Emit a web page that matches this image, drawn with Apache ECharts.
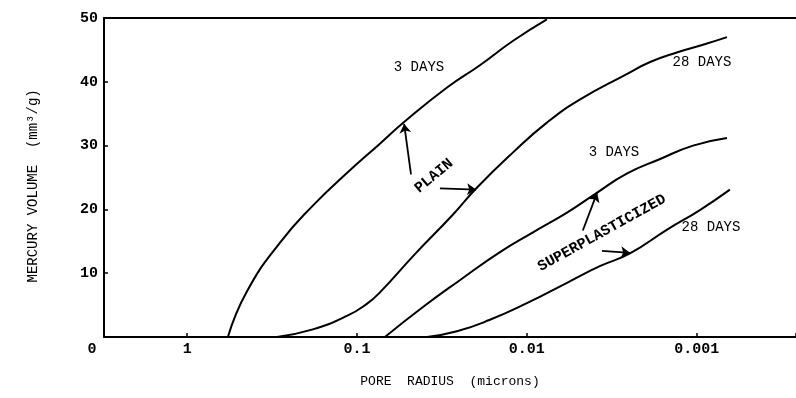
<!DOCTYPE html>
<html><head><meta charset="utf-8">
<script src="https://cdn.jsdelivr.net/npm/echarts@6/dist/echarts.min.js"></script>
<style>html,body{margin:0;padding:0;background:#fff}#c{width:796px;height:398px}</style>
</head><body><div id="c"></div>
<script>
// ---- data (pore radius in microns, mercury volume in mm3/g) ----
const radiusTicks = [1, 0.1, 0.01, 0.001];
const radiusTickLabels = ['1', '0.1', '0.01', '0.001'];
const volumeTicks = [0, 10, 20, 30, 40, 50];

const plain3Radius = [0.576, 0.446, 0.284, 0.182, 0.1147, 0.0733, 0.0522, 0.0295, 0.0189, 0.0121, 0.00762];
const plain3Volume = [0, 7.1, 14.8, 20.6, 25.7, 30.3, 33.8, 39.1, 42.6, 46.4, 49.8];

const plain28Radius = [0.296, 0.182, 0.1147, 0.0875, 0.0733, 0.0456, 0.0272, 0.0197, 0.0121, 0.00762, 0.00488, 0.00258, 0.00188, 0.00131, 0.000918, 0.000663];
const plain28Volume = [0, 1.2, 3.3, 5.2, 7.0, 13.0, 19.2, 23.4, 28.9, 33.6, 37.2, 41.2, 43.1, 44.6, 45.8, 47.0];

const super3Radius = [0.0685, 0.0409, 0.0248, 0.0144, 0.0092, 0.0058, 0.00397, 0.00258, 0.00164, 0.00105, 0.000663];
const super3Volume = [0, 4.7, 8.9, 13.3, 16.4, 19.5, 22.4, 25.6, 27.9, 30.0, 31.2];

const super28Radius = [0.0387, 0.0258, 0.0165, 0.0100, 0.0058, 0.00372, 0.00247, 0.0015, 0.000957, 0.000637];
const super28Volume = [0, 0.9, 2.7, 5.3, 8.5, 11.1, 13.1, 16.8, 19.9, 23.1];

// annotation arrows: [tailRadius, tailVolume, headRadius, headVolume]
const arrows = [
  [0.0481, 25.5, 0.0528, 33.4],
  [0.0325, 23.3, 0.0199, 23.1],
  [0.00468, 16.7, 0.00386, 22.6],
  [0.00361, 13.5, 0.00247, 13.2]
];

const radiusMin = 0.00026, radiusMax = 3.09;

function pairs(xs, ys) { return xs.map((x, i) => [x, ys[i]]); }
const FONT = '"Liberation Mono", "DejaVu Sans Mono", monospace';

const lineSeries = (name, xs, ys) => ({
  name, type: 'line', data: pairs(xs, ys), showSymbol: false, symbol: 'none',
  smooth: 0.5, lineStyle: { color: '#000', width: 2 }, itemStyle: { color: '#000' }, z: 3
});

const chart = echarts.init(document.getElementById('c'), null, { renderer: 'canvas' });
chart.setOption({
  animation: false,
  backgroundColor: '#fff',
  grid: { left: 104, right: 0, top: 18, bottom: 61, containLabel: false, outerBoundsMode: 'none' },
  xAxis: [{
    type: 'log', logBase: 10, inverse: true, min: radiusMin, max: radiusMax,
    axisLine: { show: true, onZero: false, lineStyle: { color: '#000', width: 2 } },
    axisTick: { show: true, inside: true, length: 4, lineStyle: { color: '#000', width: 1.5 } },
    axisLabel: {
      margin: 5, color: '#000', fontFamily: FONT, fontSize: 15, fontWeight: 'bold',
      formatter: v => {
        const e = Math.log10(v);
        const i = radiusTicks.findIndex(t => Math.abs(Math.log10(t) - e) < 1e-6);
        return i >= 0 ? radiusTickLabels[i] : '';
      }
    },
    splitLine: { show: false },
    name: 'PORE  RADIUS  (microns)', nameLocation: 'middle', nameGap: 38,
    nameTextStyle: { color: '#000', fontFamily: FONT, fontSize: 13 }
  }, {
    type: 'value', position: 'top', min: 0, max: 1,
    axisLine: { show: true, onZero: false, lineStyle: { color: '#000', width: 2 } },
    axisTick: { show: false }, axisLabel: { show: false }, splitLine: { show: false }
  }],
  yAxis: {
    type: 'value', min: volumeTicks[0], max: volumeTicks[volumeTicks.length - 1], interval: 10,
    axisLine: { show: true, onZero: false, lineStyle: { color: '#000', width: 2 } },
    axisTick: { show: true, inside: true, length: 4, lineStyle: { color: '#000', width: 1.5 } },
    axisLabel: {
      margin: 6, color: '#000', fontFamily: FONT, fontSize: 15, fontWeight: 'bold',
      formatter: v => (v === 0 ? '' : String(v))
    },
    splitLine: { show: false },
    name: 'MERCURY VOLUME  (mm³/g)  ', nameLocation: 'middle', nameRotate: 90, nameGap: 64,
    nameTextStyle: { color: '#000', fontFamily: FONT, fontSize: 14 }
  },
  series: [
    lineSeries('Plain 3 days', plain3Radius, plain3Volume),
    lineSeries('Plain 28 days', plain28Radius, plain28Volume),
    lineSeries('Superplasticized 3 days', super3Radius, super3Volume),
    lineSeries('Superplasticized 28 days', super28Radius, super28Volume),
    {
      name: 'arrows', type: 'line', data: [], silent: true, itemStyle: { color: '#000' },
      markLine: {
        silent: true, animation: false, symbol: ['none', 'arrow'], symbolSize: 9,
        label: { show: false },
        itemStyle: { color: '#000' },
        lineStyle: { color: '#000', width: 1.8, type: 'solid' },
        emphasis: { disabled: true },
        data: arrows.map(a => [{ coord: [a[0], a[1]] }, { coord: [a[2], a[3]] }])
      }
    }
  ],
  graphic: [
    { type: 'text', x: 92, y: 349, style: { text: '0', font: 'bold 15px ' + FONT, fill: '#000', align: 'center', verticalAlign: 'middle' } },
    { type: 'text', x: 419, y: 67, style: { text: '3 DAYS', font: '14px ' + FONT, fill: '#000', align: 'center', verticalAlign: 'middle' } },
    { type: 'text', x: 702, y: 62, style: { text: '28 DAYS', font: '14px ' + FONT, fill: '#000', align: 'center', verticalAlign: 'middle' } },
    { type: 'text', x: 614, y: 152, style: { text: '3 DAYS', font: '14px ' + FONT, fill: '#000', align: 'center', verticalAlign: 'middle' } },
    { type: 'text', x: 711, y: 227, style: { text: '28 DAYS', font: '14px ' + FONT, fill: '#000', align: 'center', verticalAlign: 'middle' } },
    { type: 'text', x: 434, y: 176, rotation: 40 * Math.PI / 180, style: { text: 'PLAIN', font: 'bold 15px ' + FONT, fill: '#000', align: 'center', verticalAlign: 'middle' } },
    { type: 'text', x: 602, y: 233, rotation: 29 * Math.PI / 180, style: { text: 'SUPERPLASTICIZED', font: 'bold 15px ' + FONT, fill: '#000', align: 'center', verticalAlign: 'middle' } }
  ]
});
</script></body></html>
